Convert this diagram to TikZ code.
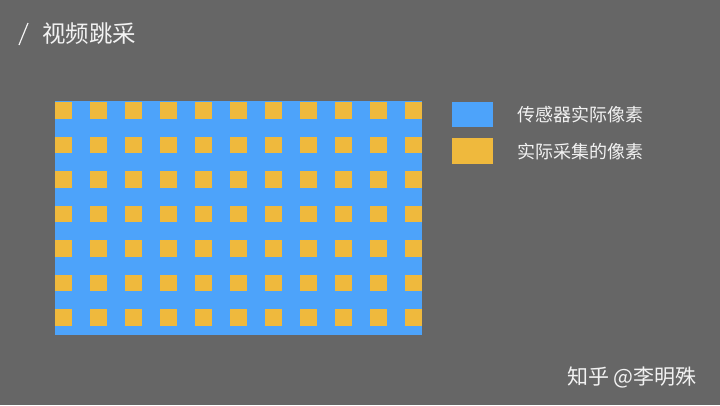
\documentclass[tikz,border=0pt]{standalone}
\usepackage{fontspec}
\newfontfamily\cjk{Noto Sans CJK SC}
\definecolor{bg}{HTML}{666666}
\definecolor{pixblue}{HTML}{4DA3FA}
\definecolor{pixyellow}{HTML}{EFB93D}
\definecolor{txt}{HTML}{F2F2F2}
\tikzset{
  sq/.style={fill=pixyellow, draw=none},
  lbl/.style={text=txt, font=\cjk\fontsize{18}{20}\selectfont, anchor=west, inner sep=0pt},
}
\begin{document}
\begin{tikzpicture}[x=1pt,y=-1pt]
\fill[bg] (0,0) rectangle (720,405);
\useasboundingbox (0,0) rectangle (720,405);
% title
\draw[txt, line width=1.2pt] (19,45) -- (28,23);
\node[lbl, font=\cjk\fontsize{23.5}{26}\selectfont] (title) at (42,34) {视频跳采};
% sensor
\fill[pixblue] (55,101) rectangle (422,335);
\foreach \i in {0,...,10}{
  \foreach \j in {0,...,6}{
    \fill[sq] (55+35*\i,102+34.5*\j) rectangle ++(17,16.5);
  }
}
% legend
\node[fill=pixblue, minimum width=41pt, minimum height=25pt, inner sep=0pt, anchor=north west] (lb) at (452,102) {};
\node[fill=pixyellow, minimum width=41pt, minimum height=26pt, inner sep=0pt, anchor=north west] (ly) at (452,138) {};
\node[lbl] (t1) at (517,115) {传感器实际像素};
\node[lbl] (t2) at (517,152) {实际采集的像素};
% watermark
\node[lbl, font=\cjk\fontsize{21}{23}\selectfont, text=black!60, anchor=west] at (568,378) {知乎 @李明殊};
\node[lbl, font=\cjk\fontsize{21}{23}\selectfont, anchor=west] (wm) at (567,377) {知乎 @李明殊};
\end{tikzpicture}
\end{document}
